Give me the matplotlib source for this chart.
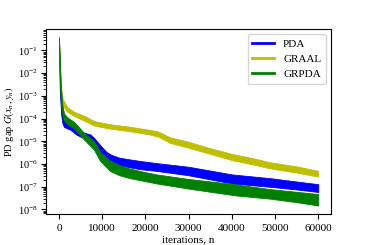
import matplotlib
matplotlib.use("Agg")
import matplotlib.pyplot as plt
from matplotlib.lines import Line2D
from matplotlib.ticker import LogLocator

plt.rcParams['font.family'] = 'serif'
plt.rcParams['font.serif'] = ['Liberation Serif', 'DejaVu Serif']
plt.rcParams['mathtext.fontset'] = 'stix'
plt.rcParams['font.size'] = 8

# PD gap bands (upper / lower edge of the oscillating curves)
pda_x = [0, 200, 500, 800, 1160, 2700, 4000, 5000, 6500, 7300, 8000, 9000, 9650,
         11000, 12000, 14000, 16400, 19000, 22600, 30000, 40000, 48800, 55000, 60000]
pda_hi = [3.5e-1, 1.0e-2, 6.3e-4, 1.6e-4, 8.5e-5, 5.2e-5, 3.5e-5, 2.7e-5, 2.2e-5, 2.0e-5,
          1.5e-5, 9.0e-6, 6.5e-6, 3.4e-6, 2.6e-6, 1.9e-6, 1.6e-6, 1.35e-6, 1.1e-6, 7.6e-7,
          3.5e-7, 2.4e-7, 1.7e-7, 1.3e-7]
pda_lo = [3.2e-1, 1.6e-3, 1.6e-4, 6.3e-5, 4.3e-5, 3.2e-5, 2.0e-5, 1.6e-5, 1.3e-5, 1.1e-5,
          8.0e-6, 4.5e-6, 3.0e-6, 1.6e-6, 1.2e-6, 8.9e-7, 7.1e-7, 5.9e-7, 5.0e-7, 3.2e-7,
          1.4e-7, 1.0e-7, 7.6e-8, 5.9e-8]

graal_x = [0, 250, 500, 800, 1900, 3500, 6000, 8100, 10000, 12000, 16400, 21000, 23000,
           25700, 29600, 35000, 40000, 45000, 48800, 55000, 60000]
graal_hi = [3.5e-1, 1.3e-2, 2.5e-3, 7.9e-4, 3.2e-4, 2.0e-4, 1.3e-4, 7.9e-5, 6.6e-5, 5.6e-5,
            4.4e-5, 3.2e-5, 2.7e-5, 1.5e-5, 1.0e-5, 5.0e-6, 2.8e-6, 1.8e-6, 1.2e-6, 7.9e-7,
            5.0e-7]
graal_lo = [3.0e-1, 4.0e-3, 1.3e-3, 4.0e-4, 2.0e-4, 1.3e-4, 7.9e-5, 5.0e-5, 4.2e-5, 3.6e-5,
            2.8e-5, 2.0e-5, 1.6e-5, 8.5e-6, 5.5e-6, 2.8e-6, 1.5e-6, 9.5e-7, 6.5e-7, 4.2e-7,
            2.8e-7]

grpda_x = [0, 200, 500, 800, 1160, 2000, 3500, 5000, 5800, 8100, 9500, 11800, 14000,
           16400, 19700, 22600, 30000, 40700, 48800, 55000, 60000]
grpda_hi = [3.8e-1, 3.2e-2, 1.6e-3, 4.0e-4, 1.7e-4, 1.1e-4, 7.2e-5, 3.5e-5, 2.3e-5, 1.0e-5,
            3.5e-6, 1.4e-6, 9.0e-7, 6.3e-7, 4.5e-7, 3.5e-7, 2.2e-7, 1.3e-7, 7.9e-8, 6.0e-8,
            4.8e-8]
grpda_lo = [3.2e-1, 3.2e-3, 4.0e-4, 1.6e-4, 8.5e-5, 5.6e-5, 3.7e-5, 1.8e-5, 1.2e-5, 4.3e-6,
            1.4e-6, 5.0e-7, 3.2e-7, 2.4e-7, 1.8e-7, 1.4e-7, 8.3e-8, 4.2e-8, 3.0e-8, 2.1e-8,
            1.5e-8]

fig, ax = plt.subplots(figsize=(3.68, 2.45), dpi=100)
fig.subplots_adjust(left=0.125, right=0.9, top=0.882, bottom=0.127)

ax.fill_between(pda_x, pda_lo, pda_hi, color='b', lw=0.6)
ax.fill_between(graal_x, graal_lo, graal_hi, color='y', lw=0.6)
ax.fill_between(grpda_x, grpda_lo, grpda_hi, color='g', lw=0.6)

ax.set_yscale('log')
ax.yaxis.set_major_locator(LogLocator(base=10, numticks=20))
ax.yaxis.set_minor_locator(LogLocator(base=10, subs=range(2, 10), numticks=20))
ax.set_xticks([0, 10000, 20000, 30000, 40000, 50000, 60000])
ax.tick_params(axis='y', labelsize=7.5, pad=2.5)
ax.set_xlabel('iterations, n', labelpad=2)
ax.set_ylabel(r'PD gap $G(x_n, y_n)$', labelpad=1, fontsize=7.5)

handles = [Line2D([], [], color='b', lw=2),
           Line2D([], [], color='y', lw=2),
           Line2D([], [], color='g', lw=2)]
ax.legend(handles, ['PDA', 'GRAAL', 'GRPDA'], loc='upper right')

fig.savefig('out.png', dpi=100)
